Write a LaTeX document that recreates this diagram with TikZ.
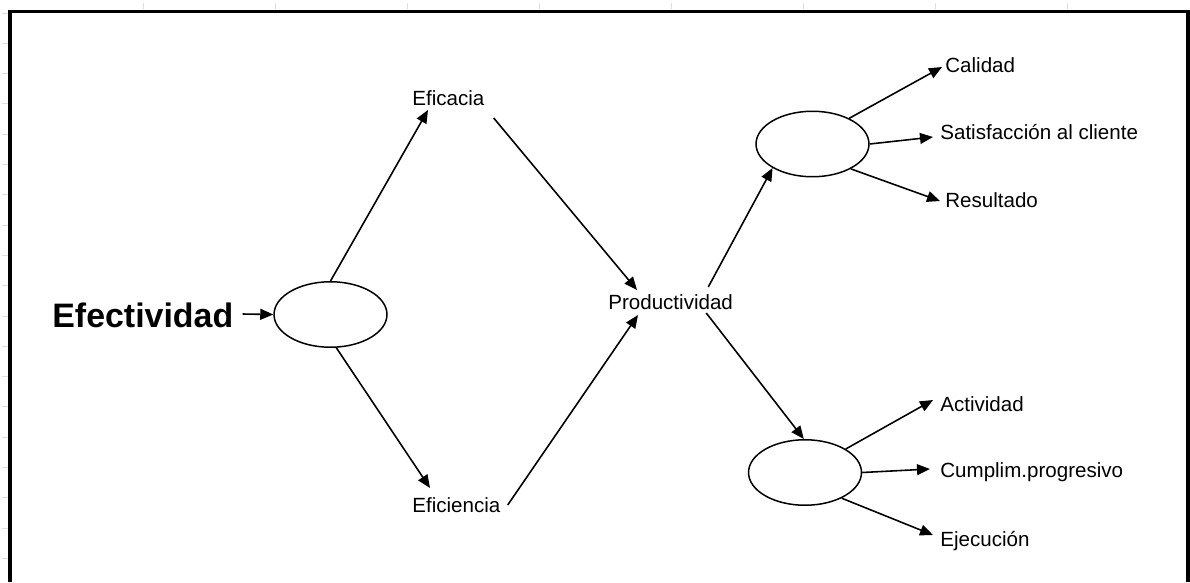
\documentclass[tikz,border=0pt]{standalone}
\usepackage{fontspec}
\setmainfont{Liberation Sans}
\usetikzlibrary{arrows.meta,calc,shapes.geometric}

\begin{document}
\begin{tikzpicture}[x=0.02cm,y=-0.02cm,
    lbl/.style={anchor=base west,inner sep=0pt,font=\fontsize{11.7}{14}\selectfont},
    hub/.style={draw,ellipse,line width=0.85pt,minimum width=2.26cm,minimum height=1.31cm,inner sep=0pt},
    flecha/.style={line width=0.9pt,-{Triangle[length=7.4pt,width=6.2pt]}},
    regla/.style={draw=blue!20!gray!22,line width=0.5pt}]
  \useasboundingbox (0,0) rectangle (1190,582);
  \foreach \k in {0,...,18}
    \draw[regla] (2,{13+30.3*\k}) -- (8,{13+30.3*\k});
  \foreach \k in {0,...,7}
    \draw[regla] ({143+132*\k},3) -- ({143+132*\k},9);
  \draw[line width=1.8pt] (10,582) -- (10,11.5) -- (1188,11.5) -- (1188,582);

  \node[hub] (e1) at (330.5,314.5) {};
  \node[hub] (e2) at (812.5,144) {};
  \node[hub] (e3) at (805,472.5) {};

  \node[lbl,font=\bfseries\fontsize{19.3}{22}\selectfont] (efec) at (52,327) {Efectividad};
  \node[lbl] (efic) at (412,105) {Eficacia};
  \node[lbl] (efin) at (412,512) {Eficiencia};
  \node[lbl] (prod) at (608,309) {Productividad};
  \node[lbl] (cal) at (945,72) {Calidad};
  \node[lbl] (sat) at (940,139) {Satisfacción al cliente};
  \node[lbl] (res) at (945,207) {Resultado};
  \node[lbl] (act) at (940,411) {Actividad};
  \node[lbl] (cum) at (940,477) {Cumplim.progresivo};
  \node[lbl] (eje) at (940,546) {Ejecución};

  \draw[flecha] ($(efec.base east)+(9,-13)$) -- (e1.west);
  \draw[flecha] (e1.north) -- ($(efic.base west)+(16,5)$);
  \draw[flecha] (e1.-80) -- ($(efin.base west)+(18,-24)$);
  \draw[flecha] ($(efic.base east)+(9,13)$) -- ($(prod.base west)+(29,-19)$);
  \draw[flecha] ($(efin.base east)+(7,-7)$) -- ($(prod.base west)+(30,6)$);
  \draw[flecha] ($(prod.base east)+(-25,-22)$) -- (e2.211);
  \draw[flecha] ($(prod.base east)+(-27,4)$) -- (e3.92);
  \draw[flecha] (e2.35) -- ($(cal.base west)+(-3,-5)$);
  \draw[flecha] (e2.east) -- ($(sat.base west)+(-7,-2)$);
  \draw[flecha] (e2.-33) -- ($(res.base west)+(-5,-6)$);
  \draw[flecha] (e3.30) -- ($(act.base west)+(-7,-11)$);
  \draw[flecha] (e3.east) -- ($(cum.base west)+(-10,-8)$);
  \draw[flecha] (e3.-35) -- ($(eje.base west)+(-7,-11)$);
\end{tikzpicture}
\end{document}
